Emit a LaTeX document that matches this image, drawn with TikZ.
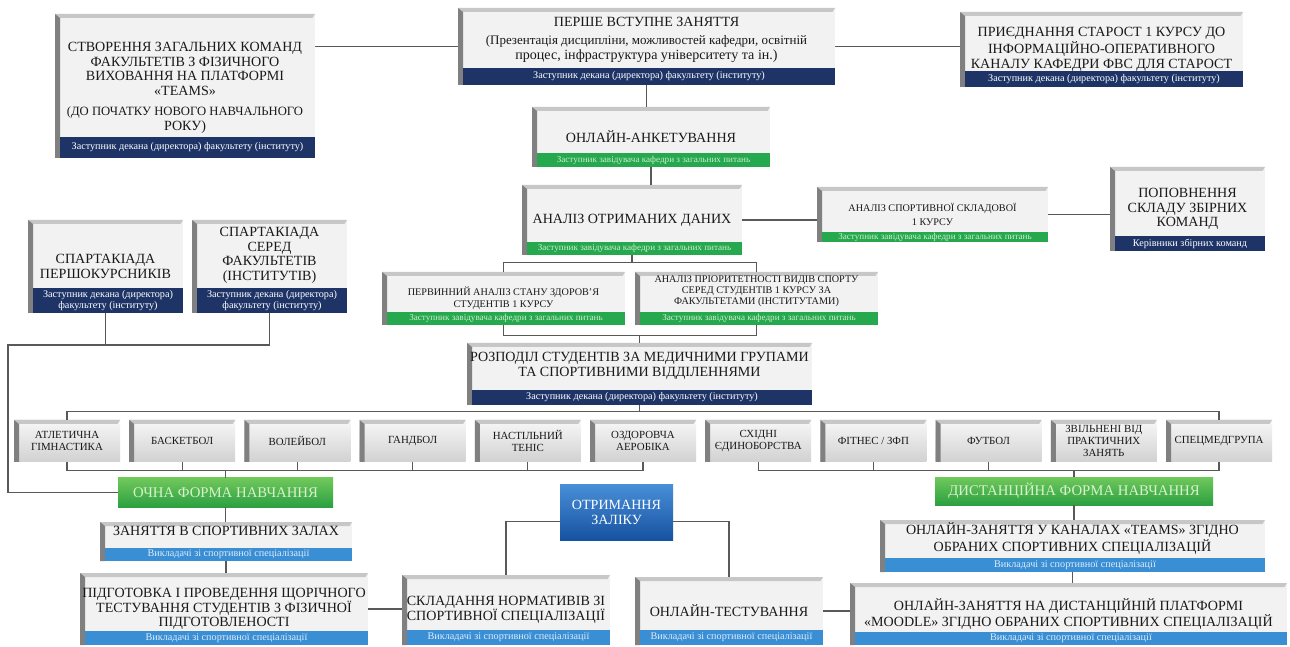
\documentclass[tikz,border=0pt]{standalone}
\usepackage{fontspec}
\setmainfont{Liberation Serif}
\usetikzlibrary{positioning,calc}

\definecolor{navyBar}{RGB}{30,52,102}
\definecolor{greenBar}{RGB}{38,168,78}
\definecolor{greenText}{RGB}{205,238,205}
\definecolor{blueBar}{RGB}{58,142,212}
\definecolor{blueText}{RGB}{222,236,250}
\definecolor{formTop}{RGB}{112,200,92}
\definecolor{formBottom}{RGB}{44,160,64}
\definecolor{formText}{RGB}{215,242,205}
\definecolor{zalikTop}{RGB}{72,142,215}
\definecolor{zalikBottom}{RGB}{22,82,160}

\begin{document}
\begin{tikzpicture}[
    link/.style={draw=black!65, line width=0.6pt},
    card/.style={fill=black!5, align=center, inner sep=1pt, text=black!90,
        font=\fontsize{8}{8.4}\selectfont,
        path picture={
            \fill[black!22] (path picture bounding box.north west) -- (path picture bounding box.north east)
                -- ([xshift=-0.05cm,yshift=-0.08cm]path picture bounding box.north east)
                -- ([xshift=0.1cm,yshift=-0.08cm]path picture bounding box.north west) -- cycle;
            \fill[black!50] (path picture bounding box.north west)
                -- ([xshift=0.1cm,yshift=-0.08cm]path picture bounding box.north west)
                -- ([xshift=0.1cm]path picture bounding box.south west)
                -- (path picture bounding box.south west) -- cycle;
        }},
    sport/.style={card, top color=black!3, bottom color=black!18, font=\fontsize{6.2}{6.8}\selectfont},
    navybar/.style={fill=navyBar, text=white, anchor=south east, inner sep=0pt, align=center,
        font=\fontsize{5.8}{6.6}\selectfont},
    greenbar/.style={navybar, fill=greenBar, text=greenText, font=\fontsize{5.2}{6}\selectfont},
    bluebar/.style={navybar, fill=blueBar, text=blueText},
    formbox/.style={top color=formTop, bottom color=formBottom, text=formText, inner sep=0pt,
        font=\fontsize{8.4}{9}\selectfont},
    zalikbox/.style={top color=zalikTop, bottom color=zalikBottom, text=white, inner sep=0pt,
        align=center, font=\fontsize{8}{9}\selectfont}
]
    \path[fill=white] (0,0) rectangle (25.8,-12.94);
    \useasboundingbox (0,0) rectangle (25.8,-12.94);

    % Top row
    \node[card, minimum width=5.2cm, minimum height=2.88cm] (teams) at (3.70,-1.72)
        {\mbox{}\\[-1pt]СТВОРЕННЯ ЗАГАЛЬНИХ КОМАНД\\ФАКУЛЬТЕТІВ З ФІЗИЧНОГО\\ВИХОВАННЯ НА ПЛАТФОРМІ\\«TEAMS»\\[3pt]\fontsize{7.2}{8}\selectfont(ДО ПОЧАТКУ НОВОГО НАВЧАЛЬНОГО\\РОКУ)};
    \node[navybar, minimum width=5.1cm, minimum height=0.42cm] (teamsBar) at (teams.south east)
        {Заступник декана (директора) факультету (інституту)};

    \node[card, minimum width=7.54cm, minimum height=1.54cm] (first) at (12.93,-0.93)
        {ПЕРШЕ ВСТУПНЕ ЗАНЯТТЯ\\[2pt]\fontsize{7.4}{8}\selectfont(Презентація дисципліни, можливостей кафедри, освітній\\процес, інфраструктура університету та ін.)\\[1pt]};
    \node[navybar, minimum width=7.44cm, minimum height=0.34cm] (firstBar) at (first.south east)
        {Заступник декана (директора) факультету (інституту)};

    \node[card, minimum width=5.66cm, minimum height=1.5cm] (starosty) at (22.03,-0.99)
        {ПРИЄДНАННЯ СТАРОСТ 1 КУРСУ ДО\\ІНФОРМАЦІЙНО-ОПЕРАТИВНОГО\\КАНАЛУ КАФЕДРИ ФВС ДЛЯ СТАРОСТ};
    \node[navybar, minimum width=5.56cm, minimum height=0.32cm] (starostyBar) at (starosty.south east)
        {Заступник декана (директора) факультету (інституту)};

    % Survey and analysis
    \node[card, minimum width=4.76cm, minimum height=1.2cm] (survey) at (13.02,-2.74)
        {ОНЛАЙН-АНКЕТУВАННЯ};
    \node[greenbar, minimum width=4.66cm, minimum height=0.28cm] (surveyBar) at (survey.south east)
        {Заступник завідувача кафедри з загальних питань};

    \node[card, minimum width=4.4cm, minimum height=1.4cm] (analysis) at (12.64,-4.40)
        {АНАЛІЗ ОТРИМАНИХ ДАНИХ};
    \node[greenbar, minimum width=4.3cm, minimum height=0.26cm] (analysisBar) at (analysis.south east)
        {Заступник завідувача кафедри з загальних питань};

    \node[card, minimum width=4.62cm, minimum height=1.1cm, font=\fontsize{5.8}{8}\selectfont] (sportPart) at (18.65,-4.29)
        {АНАЛІЗ СПОРТИВНОЇ СКЛАДОВОЇ\\1 КУРСУ};
    \node[greenbar, minimum width=4.52cm, minimum height=0.2cm] (sportPartBar) at (sportPart.south east)
        {Заступник завідувача кафедри з загальних питань};

    \node[card, minimum width=3.1cm, minimum height=1.68cm] (squads) at (23.75,-4.18)
        {ПОПОВНЕННЯ\\СКЛАДУ ЗБІРНИХ\\КОМАНД};
    \node[navybar, minimum width=3.0cm, minimum height=0.3cm] (squadsBar) at (squads.south east)
        {Керівники збірних команд};

    % Spartakiads
    \node[card, minimum width=3.1cm, minimum height=1.86cm] (spartFirst) at (2.11,-5.33)
        {СПАРТАКІАДА\\ПЕРШОКУРСНИКІВ};
    \node[navybar, minimum width=3.0cm, minimum height=0.5cm] (spartFirstBar) at (spartFirst.south east)
        {Заступник декана (директора)\\факультету (інституту)};

    \node[card, minimum width=3.1cm, minimum height=1.86cm] (spartFac) at (5.39,-5.33)
        {СПАРТАКІАДА\\СЕРЕД\\ФАКУЛЬТЕТІВ\\(ІНСТИТУТІВ)\\[6pt]};
    \node[navybar, minimum width=3.0cm, minimum height=0.5cm] (spartFacBar) at (spartFac.south east)
        {Заступник декана (директора)\\факультету (інституту)};

    % Health and priority
    \node[card, minimum width=4.86cm, minimum height=1.06cm, font=\fontsize{5.8}{6.8}\selectfont] (health) at (10.07,-5.97)
        {ПЕРВИННИЙ АНАЛІЗ СТАНУ ЗДОРОВ'Я\\СТУДЕНТІВ 1 КУРСУ};
    \node[greenbar, minimum width=4.76cm, minimum height=0.26cm] (healthBar) at (health.south east)
        {Заступник завідувача кафедри з загальних питань};

    \node[card, minimum width=4.86cm, minimum height=1.06cm, font=\fontsize{5.8}{6.4}\selectfont] (priority) at (15.13,-5.97)
        {АНАЛІЗ ПРІОРИТЕТНОСТІ ВИДІВ СПОРТУ\\СЕРЕД СТУДЕНТІВ 1 КУРСУ ЗА\\ФАКУЛЬТЕТАМИ (ІНСТИТУТАМИ)\\[3pt]};
    \node[greenbar, minimum width=4.76cm, minimum height=0.26cm] (priorityBar) at (priority.south east)
        {Заступник завідувача кафедри з загальних питань};

    \node[card, minimum width=6.9cm, minimum height=1.24cm] (distrib) at (12.79,-7.48)
        {РОЗПОДІЛ СТУДЕНТІВ ЗА МЕДИЧНИМИ ГРУПАМИ\\ТА СПОРТИВНИМИ ВІДДІЛЕННЯМИ\\[3pt]};
    \node[navybar, minimum width=6.8cm, minimum height=0.3cm] (distribBar) at (distrib.south east)
        {Заступник декана (директора) факультету (інституту)};

    % Sports row
    \foreach \i/\txt in {1/{АТЛЕТИЧНА\\ГІМНАСТИКА}, 2/БАСКЕТБОЛ, 3/ВОЛЕЙБОЛ, 4/ГАНДБОЛ,
            5/{НАСТІЛЬНИЙ\\ТЕНІС}, 6/{ОЗДОРОВЧА\\АЕРОБІКА}, 7/{СХІДНІ\\ЄДИНОБОРСТВА},
            8/{ФІТНЕС / ЗФП}, 9/ФУТБОЛ, 10/{ЗВІЛЬНЕНІ ВІД\\ПРАКТИЧНИХ\\ЗАНЯТЬ}, 11/СПЕЦМЕДГРУПА}
        \node[sport, minimum width=2.12cm, minimum height=0.84cm] (sp\i) at ({1.34+2.304*(\i-1)},-8.82) {\txt};

    % Forms of study
    \node[formbox, minimum width=4.3cm, minimum height=0.58cm] (ochna) at (4.51,-9.85) {ОЧНА ФОРМА НАВЧАННЯ};
    \node[formbox, minimum width=5.56cm, minimum height=0.56cm] (distance) at (21.48,-9.82) {ДИСТАНЦІЙНА ФОРМА НАВЧАННЯ};

    \node[card, minimum width=5.04cm, minimum height=0.78cm] (halls) at (4.52,-10.83)
        {ЗАНЯТТЯ В СПОРТИВНИХ ЗАЛАХ\\[4pt]};
    \node[bluebar, minimum width=4.94cm, minimum height=0.26cm] (hallsBar) at (halls.south east)
        {Викладачі зі спортивної спеціалізації};

    \node[card, minimum width=5.76cm, minimum height=1.44cm] (testing) at (4.48,-12.18)
        {ПІДГОТОВКА І ПРОВЕДЕННЯ ЩОРІЧНОГО\\ТЕСТУВАННЯ СТУДЕНТІВ З ФІЗИЧНОЇ\\ПІДГОТОВЛЕНОСТІ};
    \node[bluebar, minimum width=5.66cm, minimum height=0.28cm] (testingBar) at (testing.south east)
        {Викладачі зі спортивної спеціалізації};

    \node[zalikbox, minimum width=2.26cm, minimum height=1.1cm] (zalik) at (12.33,-10.25) {ОТРИМАННЯ\\ЗАЛІКУ};

    \node[card, minimum width=4.16cm, minimum height=1.4cm] (norms) at (10.12,-12.20)
        {СКЛАДАННЯ НОРМАТИВІВ ЗІ\\СПОРТИВНОЇ СПЕЦІАЛІЗАЦІЇ};
    \node[bluebar, minimum width=4.06cm, minimum height=0.3cm] (normsBar) at (norms.south east)
        {Викладачі зі спортивної спеціалізації};

    \node[card, minimum width=3.76cm, minimum height=1.36cm] (onlineTest) at (14.58,-12.22)
        {ОНЛАЙН-ТЕСТУВАННЯ};
    \node[bluebar, minimum width=3.66cm, minimum height=0.3cm] (onlineTestBar) at (onlineTest.south east)
        {Викладачі зі спортивної спеціалізації};

    \node[card, minimum width=7.7cm, minimum height=1.04cm] (teamsOnline) at (21.45,-10.92)
        {ОНЛАЙН-ЗАНЯТТЯ У КАНАЛАХ «TEAMS» ЗГІДНО\\ОБРАНИХ СПОРТИВНИХ СПЕЦІАЛІЗАЦІЙ\\[2pt]};
    \node[bluebar, minimum width=7.6cm, minimum height=0.28cm] (teamsOnlineBar) at (teamsOnline.south east)
        {Викладачі зі спортивної спеціалізації};

    \node[card, minimum width=8.74cm, minimum height=1.24cm] (moodle) at (21.37,-12.28)
        {ОНЛАЙН-ЗАНЯТТЯ НА ДИСТАНЦІЙНІЙ ПЛАТФОРМІ\\«MOODLE» ЗГІДНО ОБРАНИХ СПОРТИВНИХ СПЕЦІАЛІЗАЦІЙ};
    \node[bluebar, minimum width=8.64cm, minimum height=0.26cm] (moodleBar) at (moodle.south east)
        {Викладачі зі спортивної спеціалізації};

    \coordinate (rail) at (0.16,-6.90);

    % Connectors, top part
    \draw[link] (first.west) -- (first.west -| teams.east);
    \draw[link] (first.east) -- (first.east -| starosty.west);
    \draw[link] (first.south) -- (first.south |- survey.north);
    \draw[link] (survey.south) -- (survey.south |- analysis.north);
    \draw[link] (analysis.east) -- (analysis.east -| sportPart.west);
    \draw[link] (sportPart.east) -- (sportPart.east -| squads.west);
    \draw[link] (analysis.south) -- ++(0,-0.16);
    \draw[link] (health.north) -- ++(0,0.18) -| (priority.north);
    \draw[link] (health.south) -- ++(0,-0.2) -| (priority.south);
    \draw[link] (distrib.north) -- ++(0,0.16);

    % Connectors, sports
    \draw[link] (distrib.south) -- ++(0,-0.14);
    \draw[link] (sp1.north) -- ++(0,0.16) -| (sp11.north);
    \draw[link] (sp1.south) -- ++(0,-0.16) -| (sp6.south);
    \foreach \i in {2,...,5}
        \draw[link] (sp\i.south) -- ++(0,-0.16);
    \draw[link] (sp7.south) -- ++(0,-0.16) -| (sp11.south);
    \foreach \i in {8,9}
        \draw[link] (sp\i.south) -- ++(0,-0.16);
    \draw[link] (ochna.north) -- ++(0,0.16);
    \draw[link] (distance.north) -- ++(0,0.14);

    % Connectors, spartakiads
    \draw[link] (spartFac.south) |- (rail) |- (ochna.west);
    \draw[link] (spartFirst.south) -- (spartFirst.south |- rail);

    % Connectors, bottom part
    \draw[link] (ochna.south) -- (ochna.south |- halls.north);
    \draw[link] (halls.south) -- (halls.south |- testing.north);
    \draw[link] (testing.east) -- (testing.east -| norms.west);
    \draw[link] ([yshift=-0.18cm]zalik.west) -| (norms.north);
    \draw[link] ([yshift=-0.18cm]zalik.east) -| (onlineTest.north);
    \draw[link] (onlineTest.east) -- (onlineTest.east -| moodle.west);
    \draw[link] (distance.south) -- (distance.south |- teamsOnline.north);
    \draw[link] (teamsOnline.south) -- (teamsOnline.south |- moodle.north);
\end{tikzpicture}
\end{document}
